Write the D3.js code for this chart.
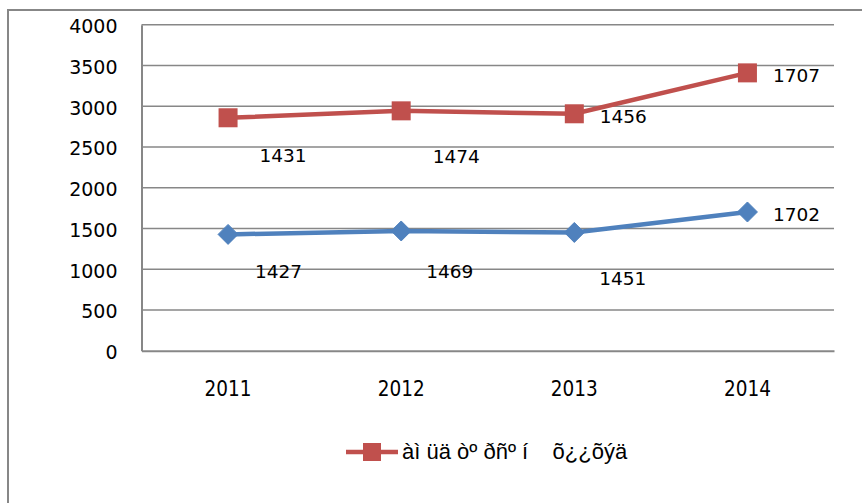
<!DOCTYPE html>
<html>
<head>
<meta charset="utf-8">
<script src="https://cdn.jsdelivr.net/npm/d3@7"></script>
<style>
  html, body { margin: 0; padding: 0; background: #fff; }
  svg { display: block; }
</style>
</head>
<body>
<svg id="chart" width="862" height="503"></svg>
<script>
// ---- data ----
const categories = ["2011", "2012", "2013", "2014"];
const seriesBlue = [1427, 1469, 1451, 1702];
const seriesRed = [1431, 1474, 1456, 1707];
const yTicks = [0, 500, 1000, 1500, 2000, 2500, 3000, 3500, 4000];
const legendLabel = "àì üä òº ðñº í    õ¿¿õýä";

// ---- layout (label placements, relative to point) ----
const blueLabelOffsets = [[50.5, 37], [48.5, 40], [48.5, 46], [49, 2]];
const redLabelOffsets = [[55, 38], [55, 45], [49, 3], [49, 2]];

const svg = d3.select("#chart");
const plot = { left: 141.5, right: 834, top: 24.7, bottom: 350.7 };

const x = d3.scaleBand().domain(categories).range([plot.left, plot.right]);
const y = d3.scaleLinear().domain([0, 4000]).range([plot.bottom, plot.top]);

const stackedRed = seriesRed.map((v, i) => v + seriesBlue[i]);

const blue = "#4F81BD", red = "#C0504D", grid = "#878787";

// outer frame
svg.append("rect").attr("x", 8).attr("y", 10).attr("width", 1000).attr("height", 1000)
  .attr("fill", "none").attr("stroke", grid).attr("stroke-width", 2);

// gridlines
svg.append("g").selectAll("line").data(yTicks.filter(d => d > 0)).join("line")
  .attr("x1", plot.left).attr("x2", plot.right)
  .attr("y1", d => y(d)).attr("y2", d => y(d))
  .attr("stroke", grid).attr("stroke-width", 1.5);

// y axis
const yAxis = d3.axisLeft(y).tickValues(yTicks).tickSize(0).tickPadding(24).tickFormat(d3.format("d"));
const gy = svg.append("g").attr("transform", `translate(${plot.left},0)`).call(yAxis);
gy.select(".domain").attr("stroke", grid).attr("stroke-width", 2);
gy.selectAll("text").attr("font-family", "DejaVu Sans, Verdana, sans-serif")
  .attr("font-size", 19).attr("fill", "#000").attr("dy", "0.42em");

// x axis
const xAxis = d3.axisBottom(x).tickSize(0).tickPadding(31);
const gx = svg.append("g").attr("transform", `translate(0,${plot.bottom})`).call(xAxis);
gx.select(".domain").attr("stroke", grid).attr("stroke-width", 2);
gx.selectAll("text").attr("font-family", "'DejaVu Sans Condensed', sans-serif")
  .attr("font-size", 20.5).attr("fill", "#000");

const cx = d => x(d) + x.bandwidth() / 2;

// lines
const line = d3.line().x(d => cx(d.c)).y(d => y(d.v));
const blueData = categories.map((c, i) => ({ c, v: seriesBlue[i], label: seriesBlue[i], off: blueLabelOffsets[i] }));
const redData = categories.map((c, i) => ({ c, v: stackedRed[i], label: seriesRed[i], off: redLabelOffsets[i] }));

svg.append("path").datum(blueData).attr("d", line).attr("fill", "none")
  .attr("stroke", blue).attr("stroke-width", 4.5).attr("stroke-linejoin", "round");
svg.append("path").datum(redData).attr("d", line).attr("fill", "none")
  .attr("stroke", red).attr("stroke-width", 4.5).attr("stroke-linejoin", "round");

// markers
const dia = 10;
svg.append("g").selectAll("path").data(blueData).join("path")
  .attr("d", d => `M${cx(d.c)},${y(d.v) - dia}L${cx(d.c) + dia},${y(d.v)}L${cx(d.c)},${y(d.v) + dia}L${cx(d.c) - dia},${y(d.v)}Z`)
  .attr("fill", blue).attr("stroke", blue).attr("stroke-width", 1);
const sq = 19;
svg.append("g").selectAll("rect").data(redData).join("rect")
  .attr("x", d => cx(d.c) - sq / 2).attr("y", d => y(d.v) - sq / 2)
  .attr("width", sq).attr("height", sq).attr("fill", red);

// data labels
const labelFont = "DejaVu Sans, Verdana, sans-serif";
svg.append("g").selectAll("text").data(blueData.concat(redData)).join("text")
  .attr("x", d => cx(d.c) + d.off[0]).attr("y", d => y(d.v) + d.off[1])
  .attr("dy", "0.36em").attr("text-anchor", "middle")
  .attr("font-family", labelFont).attr("font-size", 18.5).attr("fill", "#000")
  .text(d => d.label);

// legend
const lg = svg.append("g");
lg.append("line").attr("x1", 346).attr("x2", 398).attr("y1", 452).attr("y2", 452)
  .attr("stroke", red).attr("stroke-width", 4.5);
lg.append("rect").attr("x", 372 - 9).attr("y", 452 - 9).attr("width", 18).attr("height", 18).attr("fill", red);
lg.append("text").attr("x", 402).attr("y", 459)
  .attr("font-family", "'Liberation Sans', Arial, sans-serif").attr("font-size", 22)
  .attr("fill", "#000").style("white-space", "pre").text(legendLabel);
</script>
</body>
</html>
